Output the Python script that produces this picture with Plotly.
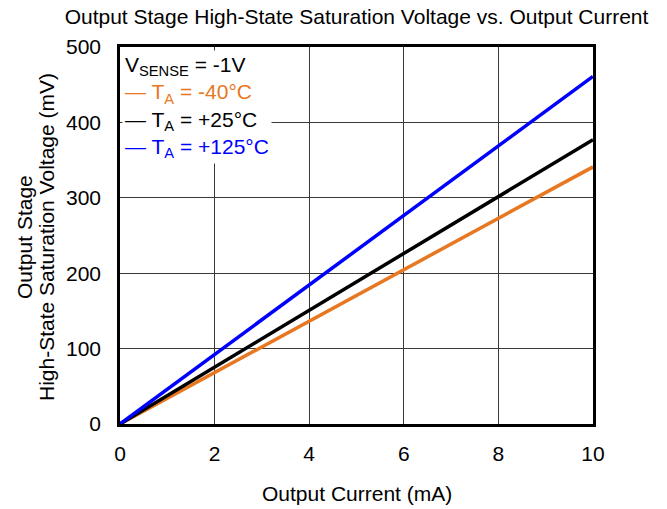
import plotly.graph_objects as go

current_ma = [0, 2, 4, 6, 8, 10]
v_m40 = [0, 68, 136.5, 205, 273, 341]
v_p25 = [0, 75.5, 151, 226, 301.5, 377]
v_p125 = [0, 92, 184, 276.5, 368.5, 461]

series = [
    ("T_A = -40°C", v_m40, "#E87722"),
    ("T_A = +25°C", v_p25, "#000000"),
    ("T_A = +125°C", v_p125, "#0000FF"),
]

FONT = "Arial, 'Liberation Sans', sans-serif"
FS = 21
W, H = 667, 509
L, R, T, B = 120, 74, 47, 85

fig = go.Figure()
for name, ys, col in series:
    fig.add_trace(go.Scatter(x=current_ma, y=ys, mode="lines", name=name,
                             line=dict(color=col, width=3.5), showlegend=False))

fig.update_layout(
    width=W, height=H,
    margin=dict(l=L, r=R, t=T, b=B),
    paper_bgcolor="white", plot_bgcolor="white",
    font=dict(family=FONT, size=FS, color="black"),
    title=dict(text="Output Stage High-State Saturation Voltage vs. Output Current",
               x=0.5, xref="paper", y=1 - 17 / H, yref="container",
               xanchor="center", yanchor="middle",
               font=dict(family=FONT, size=FS, color="black")),
)
fig.update_xaxes(range=[0, 10], tickvals=[0, 2, 4, 6, 8, 10], showgrid=True,
                 gridcolor="#3a3a3a", gridwidth=1, showline=True, linecolor="black",
                 linewidth=2.5, mirror=True, zeroline=False, ticks="",
                 ticklabelstandoff=9, tickfont=dict(size=FS))
fig.update_yaxes(range=[0, 500], tickvals=[0, 100, 200, 300, 400, 500], showgrid=True,
                 gridcolor="#3a3a3a", gridwidth=1, showline=True, linecolor="black",
                 linewidth=2.5, mirror=True, zeroline=False, ticks="",
                 ticklabelstandoff=12, tickfont=dict(size=FS))

pw = W - L - R
ph = H - T - B
fig.add_annotation(text="Output Current (mA)", xref="paper", yref="paper",
                   x=0.5, y=-(493 - (T + ph)) / ph, xanchor="center", yanchor="middle",
                   showarrow=False, font=dict(size=FS))
fig.add_annotation(text="Output Stage",
                   xref="paper", yref="paper", textangle=-90,
                   x=(24 - L) / pw, y=(T + ph - 237) / ph, xanchor="center", yanchor="middle",
                   showarrow=False, font=dict(size=FS))
fig.add_annotation(text="High-State Saturation Voltage (mV)",
                   xref="paper", yref="paper", textangle=-90,
                   x=(46 - L) / pw, y=(T + ph - 237) / ph, xanchor="center", yanchor="middle",
                   showarrow=False, font=dict(size=FS))

legend_html = ("V<sub>SENSE</sub> = -1V<br>"
               "<span style='color:#E87722'>— T<sub>A</sub> = -40°C</span><br>"
               "<span style='color:#000000'>— T<sub>A</sub> = +25°C</span><br>"
               "<span style='color:#0000FF'>— T<sub>A</sub> = +125°C</span>")
fig.add_annotation(text=legend_html, xref="paper", yref="paper", x=0.004, y=0.993,
                   xanchor="left", yanchor="top", align="left", showarrow=False,
                   bgcolor="white", borderpad=2, font=dict(size=FS))

fig.write_html("out.html")
